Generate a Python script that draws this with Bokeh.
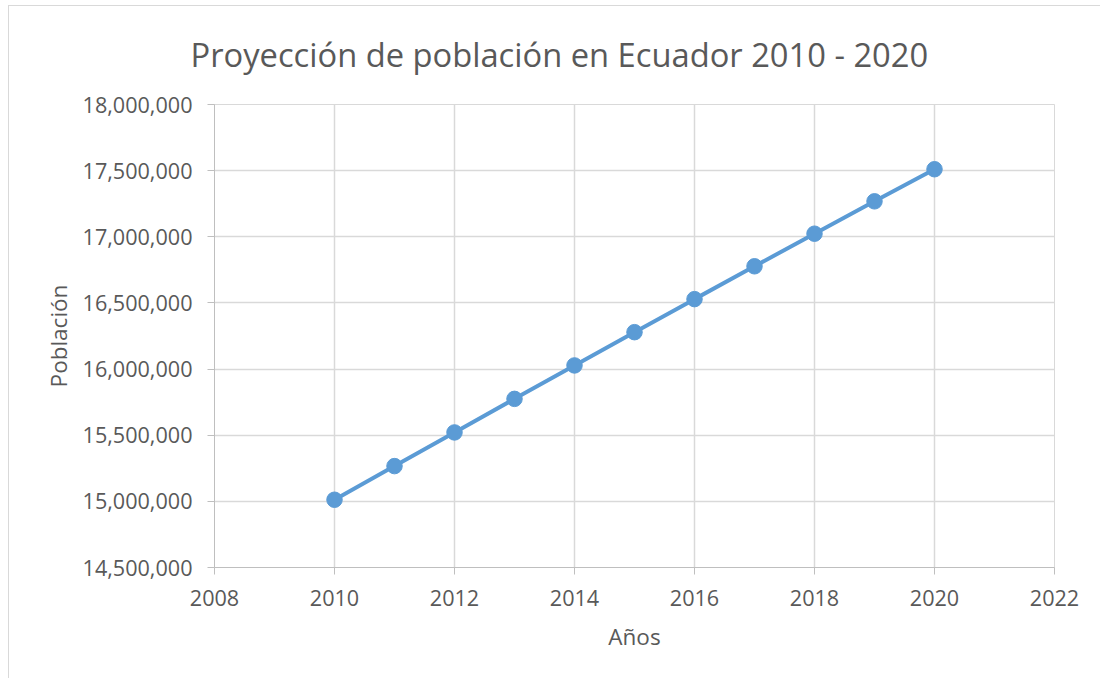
from bokeh.plotting import figure
from bokeh.models import Range1d, FixedTicker, NumeralTickFormatter, ColumnDataSource
from bokeh.embed import file_html
from bokeh.resources import INLINE

years = [2010, 2011, 2012, 2013, 2014, 2015, 2016, 2017, 2018, 2019, 2020]
population = [15012228, 15266431, 15520973, 15774749, 16027466, 16278844,
              16528730, 16776977, 17023408, 17267986, 17510643]
x_ticks = [2008, 2010, 2012, 2014, 2016, 2018, 2020, 2022]
y_ticks = [14500000, 15000000, 15500000, 16000000, 16500000, 17000000, 17500000, 18000000]

title_text = "Proyección de población en Ecuador 2010 - 2020"
x_label = "Años"
y_label = "Población"

FONT = "Open Sans"
TXT = "#595959"
GRID = "#d9d9d9"
BLUE = "#5B9BD5"

p = figure(width=1092, height=673, output_backend="svg", toolbar_location=None,
           x_range=Range1d(2008, 2022), y_range=Range1d(14500000, 18000000),
           min_border_left=205, min_border_right=47, min_border_top=98, min_border_bottom=112,
           styles={"border-left": "1px solid #d9d9d9", "border-top": "1px solid #d9d9d9",
                   "margin-left": "8px", "margin-top": "5px"})

p.title.text = title_text
p.title.text_font = FONT
p.title.text_font_size = "32.7px"
p.title.text_font_style = "normal"
p.title.text_color = TXT
p.title.align = "left"
p.title.offset = -24
p.title.vertical_align = "top"
p.title.standoff = 51

p.outline_line_color = GRID
p.background_fill_color = "white"
p.border_fill_color = "white"

p.xaxis.ticker = FixedTicker(ticks=x_ticks)
p.yaxis.ticker = FixedTicker(ticks=y_ticks)
p.yaxis.formatter = NumeralTickFormatter(format="0,0")

for ax in (p.xaxis[0], p.yaxis[0]):
    ax.axis_line_color = "#bfbfbf"
    ax.axis_line_width = 1
    ax.major_tick_line_color = "#bfbfbf"
    ax.major_tick_out = 7
    ax.major_tick_in = 0
    ax.minor_tick_line_color = None
    ax.major_label_text_font = FONT
    ax.major_label_text_font_size = "21.6px"
    ax.major_label_text_color = TXT
    ax.axis_label_text_font = FONT
    ax.axis_label_text_font_size = "22.5px"
    ax.axis_label_text_color = TXT
    ax.axis_label_text_font_style = "normal"

p.xaxis.axis_label = x_label
p.yaxis.axis_label = y_label
p.xaxis.major_label_standoff = 15
p.yaxis.major_label_standoff = 15
p.xaxis.axis_label_standoff = 12
p.yaxis.axis_label_standoff = 6

p.xgrid.ticker = FixedTicker(ticks=x_ticks)
p.ygrid.ticker = FixedTicker(ticks=y_ticks)
p.xgrid.grid_line_color = GRID
p.ygrid.grid_line_color = GRID
p.xgrid.grid_line_width = 1.5
p.ygrid.grid_line_width = 1.5

src = ColumnDataSource(data=dict(x=years, y=population))
p.line("x", "y", source=src, line_color=BLUE, line_width=4)
p.scatter("x", "y", source=src, size=15.5, fill_color=BLUE, line_color=BLUE)

open("out.html", "w").write(file_html(p, INLINE))
